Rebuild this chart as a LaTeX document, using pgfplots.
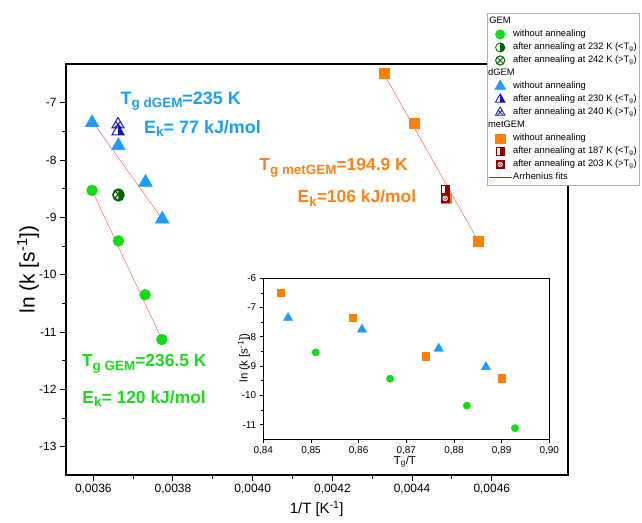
\documentclass[border=0pt]{standalone}
\usepackage{pgfplots}
\pgfplotsset{compat=1.18}
\usepackage{fontspec}
\setmainfont{Liberation Sans}
\usetikzlibrary{plotmarks}

\definecolor{cgreen}{RGB}{20,220,20}
\definecolor{cblue}{RGB}{30,155,255}
\definecolor{corange}{RGB}{255,128,0}
\definecolor{dgreen}{RGB}{0,100,0}
\definecolor{dblue}{RGB}{20,20,190}
\definecolor{dred}{RGB}{140,0,0}
\definecolor{fitred}{RGB}{255,120,120}
\definecolor{tgreen}{RGB}{30,218,30}
\definecolor{tblue}{RGB}{25,160,255}
\definecolor{torange}{RGB}{255,130,25}

\newcommand{\sub}[1]{\raisebox{-0.2em}{\fontsize{13.5}{13.5}\selectfont #1}}

% circle, right half filled
\pgfdeclareplotmark{hcircR}{%
  \pgfpathmoveto{\pgfqpoint{0pt}{\pgfplotmarksize}}%
  \pgfpatharc{90}{-90}{\pgfplotmarksize}%
  \pgfpathclose
  \pgfusepathqfill
  \pgfpathcircle{\pgfpointorigin}{\pgfplotmarksize}%
  \pgfusepathqstroke
}
% circle with X
\pgfdeclareplotmark{xcirc}{%
  \pgfpathcircle{\pgfpointorigin}{\pgfplotmarksize}%
  \pgfusepathqstroke
  \pgfpathmoveto{\pgfqpoint{-0.707\pgfplotmarksize}{-0.707\pgfplotmarksize}}%
  \pgfpathlineto{\pgfqpoint{0.707\pgfplotmarksize}{0.707\pgfplotmarksize}}%
  \pgfpathmoveto{\pgfqpoint{-0.707\pgfplotmarksize}{0.707\pgfplotmarksize}}%
  \pgfpathlineto{\pgfqpoint{0.707\pgfplotmarksize}{-0.707\pgfplotmarksize}}%
  \pgfusepathqstroke
}
% triangle, right half filled
\pgfdeclareplotmark{htriR}{%
  \pgfpathmoveto{\pgfqpoint{0pt}{\pgfplotmarksize}}%
  \pgfpathlineto{\pgfqpoint{0.866\pgfplotmarksize}{-0.5\pgfplotmarksize}}%
  \pgfpathlineto{\pgfqpoint{0pt}{-0.5\pgfplotmarksize}}%
  \pgfpathclose
  \pgfusepathqfill
  \pgfpathmoveto{\pgfqpoint{0pt}{\pgfplotmarksize}}%
  \pgfpathlineto{\pgfqpoint{0.866\pgfplotmarksize}{-0.5\pgfplotmarksize}}%
  \pgfpathlineto{\pgfqpoint{-0.866\pgfplotmarksize}{-0.5\pgfplotmarksize}}%
  \pgfpathclose
  \pgfusepathqstroke
}
% triangle with X
\pgfdeclareplotmark{xtri}{%
  \pgfpathmoveto{\pgfqpoint{0pt}{\pgfplotmarksize}}%
  \pgfpathlineto{\pgfqpoint{0.866\pgfplotmarksize}{-0.5\pgfplotmarksize}}%
  \pgfpathlineto{\pgfqpoint{-0.866\pgfplotmarksize}{-0.5\pgfplotmarksize}}%
  \pgfpathclose
  \pgfusepathqstroke
  \pgfpathmoveto{\pgfqpoint{-0.5\pgfplotmarksize}{-0.5\pgfplotmarksize}}%
  \pgfpathlineto{\pgfqpoint{0.4\pgfplotmarksize}{0.45\pgfplotmarksize}}%
  \pgfpathmoveto{\pgfqpoint{-0.4\pgfplotmarksize}{0.45\pgfplotmarksize}}%
  \pgfpathlineto{\pgfqpoint{0.5\pgfplotmarksize}{-0.5\pgfplotmarksize}}%
  \pgfusepathqstroke
}
% square, right half filled
\pgfdeclareplotmark{hsqR}{%
  \pgfpathrectangle{\pgfqpoint{0pt}{-\pgfplotmarksize}}{\pgfqpoint{\pgfplotmarksize}{2\pgfplotmarksize}}%
  \pgfusepathqfill
  \pgfpathrectangle{\pgfqpoint{-\pgfplotmarksize}{-\pgfplotmarksize}}{\pgfqpoint{2\pgfplotmarksize}{2\pgfplotmarksize}}%
  \pgfusepathqstroke
}
% filled square with white circle-X
\pgfdeclareplotmark{xsq}{%
  \pgfpathrectangle{\pgfqpoint{-\pgfplotmarksize}{-\pgfplotmarksize}}{\pgfqpoint{2\pgfplotmarksize}{2\pgfplotmarksize}}%
  \pgfusepathqfillstroke
  \pgfsetstrokecolor{white}%
  \pgfpathcircle{\pgfpointorigin}{0.6\pgfplotmarksize}%
  \pgfpathmoveto{\pgfqpoint{-0.42\pgfplotmarksize}{-0.42\pgfplotmarksize}}%
  \pgfpathlineto{\pgfqpoint{0.42\pgfplotmarksize}{0.42\pgfplotmarksize}}%
  \pgfpathmoveto{\pgfqpoint{-0.42\pgfplotmarksize}{0.42\pgfplotmarksize}}%
  \pgfpathlineto{\pgfqpoint{0.42\pgfplotmarksize}{-0.42\pgfplotmarksize}}%
  \pgfusepathqstroke
}

\begin{document}
\begin{tikzpicture}
\useasboundingbox (-66bp,-48bp) rectangle (576bp,475bp);
\begin{axis}[
  at={(0,0)}, anchor=south west,
  scale only axis, width=502bp, height=411bp,
  xmin=0.0035315, xmax=0.0047912, ymin=-13.494, ymax=-6.325,
  xtick={0.0036,0.0038,0.0040,0.0042,0.0044,0.0046},
  minor x tick num=1,
  ytick={-13,-12,-11,-10,-9,-8,-7},
  minor y tick num=1,
  tick pos=left, tick align=outside,
  major tick length=6bp, minor tick length=3.5bp,
  every tick/.style={black, line width=1bp},
  axis line style={line width=1.5bp},
  scaled x ticks=false,
  /pgf/number format/assume math mode=true,
  x tick label style={/pgf/number format/.cd, fixed, fixed zerofill, precision=4, use comma},
  tick label style={font=\fontsize{12}{14}\selectfont},
  xlabel={1/T [K\textsuperscript{-1}]},
  ylabel={ln (k [s\textsuperscript{-1}])},
  every axis x label/.style={at={(axis description cs:0.4994,-0.0827)}, anchor=center, font=\fontsize{15}{17}\selectfont},
  every axis y label/.style={at={(axis description cs:-0.0757,0.5)}, rotate=90, anchor=center, font=\fontsize{21}{24}\selectfont},
  clip=false,
  legend image code/.code={\draw[mark repeat=2,mark phase=2] plot coordinates {(0bp,0bp)(11.5bp,0bp)(23bp,0bp)};},
  legend cell align=left,
  legend style={at={(0.838,1.1234)}, anchor=north west, draw=black!30, fill=white,
    font=\fontsize{9.4}{11}\selectfont, inner sep=1.5bp, row sep=0bp,
    nodes={inner sep=1bp, text height=8bp, text depth=3bp}},
]
% legend images
\addlegendimage{empty legend}\addlegendentry{\hspace*{-25bp}GEM}
\addlegendimage{only marks, mark=*, mark size=4.8bp, draw=cgreen, fill=cgreen}\addlegendentry{without annealing}
\addlegendimage{only marks, mark=hcircR, mark size=4.6bp, mark options={draw=dgreen, fill=dgreen, line width=0.8bp}}\addlegendentry{after annealing at 232 K (<T\textsubscript{g})}
\addlegendimage{only marks, mark=xcirc, mark size=4.6bp, mark options={draw=dgreen, line width=1bp}}\addlegendentry{after annealing at 242 K (>T\textsubscript{g})}
\addlegendimage{empty legend}\addlegendentry{\hspace*{-25bp}dGEM}
\addlegendimage{only marks, mark=triangle*, mark size=6.5bp, draw=cblue, fill=cblue}\addlegendentry{without annealing}
\addlegendimage{only marks, mark=htriR, mark size=5.5bp, mark options={draw=dblue, fill=dblue, line width=0.8bp}}\addlegendentry{after annealing at 230 K (<T\textsubscript{g})}
\addlegendimage{only marks, mark=xtri, mark size=5.5bp, mark options={draw=dblue, line width=0.8bp}}\addlegendentry{after annealing at 240 K (>T\textsubscript{g})}
\addlegendimage{empty legend}\addlegendentry{\hspace*{-25bp}metGEM}
\addlegendimage{only marks, mark=square*, mark size=4.6bp, draw=corange, fill=corange}\addlegendentry{without annealing}
\addlegendimage{only marks, mark=hsqR, mark size=3.8bp, mark options={draw=dred, fill=dred, line width=0.8bp}}\addlegendentry{after annealing at 187 K (<T\textsubscript{g})}
\addlegendimage{only marks, mark=xsq, mark size=3.8bp, mark options={draw=dred, fill=dred, line width=0.6bp}}\addlegendentry{after annealing at 203 K (>T\textsubscript{g})}
\addlegendimage{red, line width=0.7bp}\addlegendentry{Arrhenius fits}

% Arrhenius fits
\addplot[fitred, line width=0.6bp, forget plot] coordinates {(0.003597,-8.53) (0.003772,-11.13)};
\addplot[fitred, line width=0.6bp, forget plot] coordinates {(0.003597,-7.32) (0.003773,-9.03)};
\addplot[fitred, line width=0.6bp, forget plot] coordinates {(0.004327,-6.47) (0.004569,-9.45)};

% GEM
\addplot[only marks, mark=*, mark size=5.5bp, draw=cgreen, fill=cgreen, forget plot] coordinates {
(0.003597,-8.53) (0.003663,-9.41) (0.003730,-10.35) (0.003772,-11.13)};
\addplot[only marks, mark=xcirc, mark size=5.5bp, mark options={draw=dgreen, line width=1.2bp}, forget plot] coordinates {(0.003663,-8.60)};
\addplot[only marks, mark=hcircR, mark size=5.5bp, mark options={draw=dgreen, fill=dgreen, line width=1.2bp}, forget plot] coordinates {(0.003663,-8.62)};

% dGEM
\addplot[only marks, mark=triangle*, mark size=8bp, draw=cblue, fill=cblue, forget plot] coordinates {
(0.003597,-7.35) (0.003663,-7.75) (0.003731,-8.39) (0.003773,-9.03)};
\addplot[only marks, mark=htriR, mark size=7bp, mark options={draw=dblue, fill=dblue, line width=1bp}, forget plot] coordinates {(0.003662,-7.50)};
\addplot[only marks, mark=xtri, mark size=7bp, mark options={draw=dblue, line width=1bp}, forget plot] coordinates {(0.003662,-7.38)};

% metGEM
\addplot[only marks, mark=square*, mark size=5bp, draw=corange, fill=corange, forget plot] coordinates {
(0.004329,-6.49) (0.004406,-7.35) (0.004485,-8.66) (0.004567,-9.41)};
\addplot[only marks, mark=hsqR, mark size=4bp, mark options={draw=dred, fill=dred, line width=0.9bp}, forget plot] coordinates {(0.004483,-8.52)};
\addplot[only marks, mark=xsq, mark size=4bp, mark options={draw=dred, fill=dred, line width=0.7bp}, forget plot] coordinates {(0.004483,-8.67)};

% annotations
\node[anchor=base west, text=tblue, font=\bfseries\fontsize{18}{20}\selectfont] at (axis cs:0.003660,-7.023) {T\sub{g dGEM}=235 K};
\node[anchor=base west, text=tblue, font=\bfseries\fontsize{18}{20}\selectfont] at (axis cs:0.003719,-7.534) {E\sub{k}= 77 kJ/mol};
\node[anchor=base west, text=tgreen, font=\bfseries\fontsize{17.5}{20}\selectfont] at (axis cs:0.003563,-11.607) {T\sub{g GEM}=236.5 K};
\node[anchor=base west, text=tgreen, font=\bfseries\fontsize{17.5}{20}\selectfont] at (axis cs:0.003564,-12.241) {E\sub{k}= 120 kJ/mol};
\node[anchor=base west, text=torange, font=\bfseries\fontsize{17.5}{20}\selectfont] at (axis cs:0.004008,-8.187) {T\sub{g metGEM}=194.9 K};
\node[anchor=base west, text=torange, font=\bfseries\fontsize{17.5}{20}\selectfont] at (axis cs:0.004104,-8.745) {E\sub{k}=106 kJ/mol};
\end{axis}

% inset
\begin{axis}[
  at={(197.3bp,35.7bp)}, anchor=south west,
  scale only axis, width=286bp, height=161bp,
  xmin=0.84, xmax=0.90, ymin=-11.5, ymax=-6,
  xtick={0.84,0.85,0.86,0.87,0.88,0.89,0.90},
  ytick={-11,-10,-9,-8,-7,-6},
  minor y tick num=1,
  tick pos=left, tick align=outside,
  major tick length=3.5bp, minor tick length=2bp,
  every tick/.style={black, line width=0.7bp},
  axis line style={line width=1bp},
  axis background/.style={fill=white},
  /pgf/number format/assume math mode=true,
  x tick label style={/pgf/number format/.cd, fixed, fixed zerofill, precision=2, use comma},
  tick label style={font=\fontsize{10}{12}\selectfont},
  xlabel={T\textsubscript{g}/T},
  ylabel={ln (k [s\textsuperscript{-1}])},
  every axis x label/.style={at={(axis description cs:0.495,-0.139)}, anchor=center, font=\fontsize{11.5}{13}\selectfont},
  every axis y label/.style={at={(axis description cs:-0.068,0.505)}, rotate=90, anchor=center, font=\fontsize{11.5}{13}\selectfont},
]
\addplot[only marks, mark=*, mark size=3.7bp, draw=cgreen, fill=cgreen] coordinates {
(0.8510,-8.53) (0.8666,-9.43) (0.8827,-10.35) (0.8928,-11.12)};
\addplot[only marks, mark=triangle*, mark size=5.4bp, draw=cblue, fill=cblue] coordinates {
(0.8452,-7.35) (0.8607,-7.75) (0.8768,-8.40) (0.8867,-9.03)};
\addplot[only marks, mark=square*, mark size=3.6bp, draw=corange, fill=corange] coordinates {
(0.84365,-6.48) (0.8587,-7.34) (0.8741,-8.66) (0.8900,-9.41)};
\end{axis}
\end{tikzpicture}
\end{document}
